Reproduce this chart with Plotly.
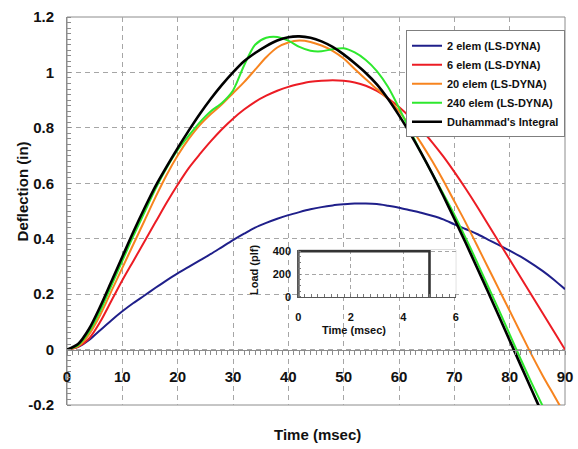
import plotly.graph_objects as go

# ---------------- data ----------------
t_ms = list(range(0, 91, 2))

elem2 = [0, 0.01, 0.035, 0.07, 0.105, 0.138, 0.168, 0.195, 0.223, 0.25,
         0.275, 0.298, 0.322, 0.345, 0.37, 0.395, 0.418, 0.44, 0.457, 0.472,
         0.485, 0.496, 0.506, 0.514, 0.52, 0.524, 0.527, 0.527, 0.525, 0.519,
         0.512, 0.503, 0.494, 0.483, 0.47, 0.452, 0.435, 0.418, 0.398, 0.378,
         0.357, 0.335, 0.31, 0.283, 0.252, 0.218]

elem6 = [0, 0.01, 0.04, 0.10, 0.175, 0.25, 0.32, 0.39, 0.46, 0.53,
         0.595, 0.655, 0.705, 0.752, 0.795, 0.833, 0.866, 0.894, 0.916, 0.934,
         0.948, 0.958, 0.966, 0.97, 0.972, 0.97, 0.964, 0.952, 0.933, 0.907,
         0.875, 0.838, 0.795, 0.748, 0.697, 0.641, 0.582, 0.52, 0.455, 0.39,
         0.325, 0.26, 0.195, 0.13, 0.065, 0.0]

elem20 = [0, 0.012, 0.055, 0.125, 0.21, 0.295, 0.38, 0.465, 0.55, 0.63,
          0.70, 0.76, 0.81, 0.85, 0.885, 0.925, 0.965, 1.01, 1.055, 1.09,
          1.108, 1.115, 1.11, 1.097, 1.078, 1.05, 1.012, 0.975, 0.94, 0.905,
          0.86, 0.805, 0.745, 0.68, 0.61, 0.535, 0.46, 0.38, 0.30, 0.22,
          0.14, 0.06, -0.02, -0.095, -0.165, -0.235]

elem240 = [0, 0.015, 0.065, 0.14, 0.23, 0.32, 0.41, 0.495, 0.58, 0.655,
           0.72, 0.772, 0.82, 0.86, 0.89, 0.935, 1.025, 1.10, 1.125, 1.128,
           1.115, 1.092, 1.078, 1.076, 1.084, 1.087, 1.072, 1.045, 1.005, 0.948,
           0.872, 0.79, 0.71, 0.635, 0.562, 0.487, 0.405, 0.32, 0.232, 0.145,
           0.055, -0.035, -0.122, -0.205, -0.29, -0.375]

duhamel = [0, 0.02, 0.075, 0.155, 0.245, 0.335, 0.425, 0.51, 0.59, 0.66,
           0.727, 0.79, 0.85, 0.905, 0.955, 1.00, 1.04, 1.07, 1.095, 1.115,
           1.127, 1.13, 1.125, 1.112, 1.092, 1.065, 1.033, 0.998, 0.957, 0.905,
           0.845, 0.78, 0.71, 0.635, 0.555, 0.472, 0.387, 0.30, 0.212, 0.123,
           0.033, -0.057, -0.147, -0.236, -0.325, -0.41]

series_names = ["2 elem (LS-DYNA)", "6 elem (LS-DYNA)", "20 elem (LS-DYNA)",
                "240 elem (LS-DYNA)", "Duhammad's Integral"]

load_t = [0, 0, 5, 5]
load_v = [0, 400, 400, 0]

x_ticks = [0, 10, 20, 30, 40, 50, 60, 70, 80, 90]
y_ticks = [-0.2, 0, 0.2, 0.4, 0.6, 0.8, 1.0, 1.2]
y_tick_labels = ["-0.2", "0", "0.2", "0.4", "0.6", "0.8", "1", "1.2"]
inset_x_ticks = [0, 2, 4, 6]
inset_y_ticks = [0, 200, 400]

# ---------------- style ----------------
FONT = "Liberation Sans, Arial, sans-serif"
colors = ["#1f1f8a", "#ec1c24", "#f7841f", "#2ee82e", "#000000"]
widths = [2, 2, 2, 2, 2.6]
GRID = "#a6a6a6"
AX = "#8c8c8c"

fig = go.Figure()
for name, ys, c, w in zip(series_names, [elem2, elem6, elem20, elem240, duhamel], colors, widths):
    fig.add_trace(go.Scatter(x=t_ms, y=ys, mode="lines", name=name,
                             line=dict(color=c, width=w, shape="spline", smoothing=0.8),
                             xaxis="x", yaxis="y"))

fig.add_trace(go.Scatter(x=load_t, y=load_v, mode="lines", showlegend=False,
                         line=dict(color="#333333", width=2.6),
                         xaxis="x2", yaxis="y2"))

fig.update_layout(
    width=578, height=449,
    margin=dict(l=67, r=5, t=17, b=44),
    paper_bgcolor="white", plot_bgcolor="white",
    font=dict(family=FONT, color="#111111"),
    xaxis=dict(
        range=[0, 90], domain=[0, 1], anchor="free", position=1/7,
        tickmode="array", tickvals=x_ticks,
        ticks="", ticklabelstandoff=13, ticklabeloverflow="allow",
        tickfont=dict(size=15, weight="bold", color="#111"),
        showline=True, linecolor=AX, linewidth=1,
        showgrid=True, gridcolor=GRID, griddash="5px,4px", gridwidth=1,
        zeroline=False,
        minor=dict(tickmode="linear", tick0=0, dtick=1, ticks="outside",
                   ticklen=4, tickcolor=AX, showgrid=False),
    ),
    yaxis=dict(
        range=[-0.2, 1.2], domain=[0, 1], anchor="x",
        tickmode="array", tickvals=y_ticks, ticktext=y_tick_labels,
        ticks="", ticklabelstandoff=9,
        tickfont=dict(size=15, weight="bold", color="#111"),
        showline=True, linecolor=AX, linewidth=1,
        showgrid=True, gridcolor=GRID, griddash="5px,4px", gridwidth=1,
        zeroline=False,
        minor=dict(tickmode="linear", tick0=-0.2, dtick=0.02, ticks="inside",
                   ticklen=4, tickcolor=AX, showgrid=False),
    ),
    xaxis2=dict(
        range=[0, 6], domain=[0.4644, 0.7806], anchor="y2",
        tickmode="array", tickvals=inset_x_ticks,
        ticks="", ticklabelstandoff=10,
        tickfont=dict(size=11, weight="bold", color="#111"),
        showline=True, linecolor="#555", linewidth=1, mirror=False,
        showgrid=True, gridcolor=GRID, griddash="4px,3px", gridwidth=1,
        zeroline=False,
        minor=dict(tickmode="linear", tick0=0, dtick=0.25, ticks="inside",
                   ticklen=3, tickcolor="#777", showgrid=False),
    ),
    yaxis2=dict(
        range=[0, 410], domain=[0.2784, 0.3995], anchor="x2",
        tickmode="array", tickvals=inset_y_ticks,
        ticks="", ticklabelstandoff=4,
        tickfont=dict(size=11, weight="bold", color="#111"),
        showline=True, linecolor="#555", linewidth=1,
        showgrid=True, gridcolor=GRID, griddash="4px,3px", gridwidth=1,
        zeroline=False,
        minor=dict(tickmode="linear", tick0=0, dtick=50, ticks="inside",
                   ticklen=3, tickcolor="#777", showgrid=False),
    ),
    legend=dict(
        x=1, xanchor="right", y=0.966, yanchor="top",
        bgcolor="white", bordercolor="#7f7f7f", borderwidth=1,
        font=dict(family=FONT, size=11, weight="bold", color="#111"),
        tracegroupgap=0,
    ),
    showlegend=True,
)

# frame around main plot area and inset
fig.add_shape(type="rect", xref="paper", yref="paper", x0=0, x1=1, y0=0, y1=1,
              line=dict(color=AX, width=1), layer="below")
fig.add_shape(type="rect", xref="paper", yref="paper", x0=0.4644, x1=0.7806,
              y0=0.2784, y1=0.3995, line=dict(color="#bbbbbb", width=1), layer="below")

ann = [
    dict(text="<b>Deflection (in)</b>", x=-0.0895, y=0.5515, textangle=-90, size=15),
    dict(text="<b>Time (msec)</b>", x=0.503, y=-0.0773, textangle=0, size=15),
    dict(text="<b>Time (msec)</b>", x=0.577, y=0.1933, textangle=0, size=11),
    dict(text="<b>Load (plf)</b>", x=0.3755, y=0.348, textangle=-90, size=11),
]
for a in ann:
    fig.add_annotation(text=a["text"], x=a["x"], y=a["y"], xref="paper", yref="paper",
                       xanchor="center", yanchor="middle", showarrow=False,
                       textangle=a["textangle"],
                       font=dict(family=FONT, size=a["size"], color="#111"))

fig.write_html("out.html")
